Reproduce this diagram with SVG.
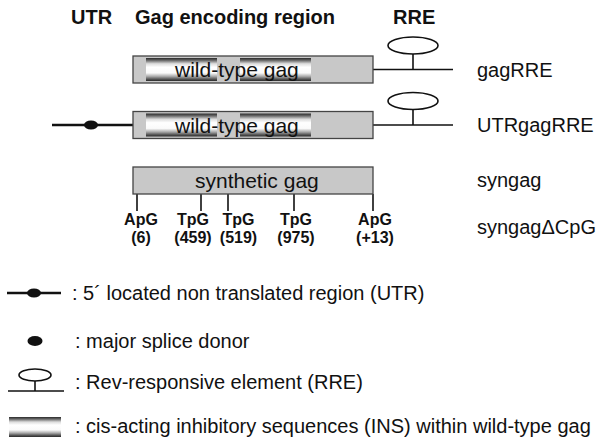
<svg xmlns="http://www.w3.org/2000/svg" width="596" height="447" viewBox="0 0 596 447">
<defs>
<linearGradient id="ins" x1="0" y1="0" x2="0" y2="1">
 <stop offset="0" stop-color="#2a2a2a"/>
 <stop offset="0.1" stop-color="#666"/>
 <stop offset="0.25" stop-color="#ddd"/>
 <stop offset="0.4" stop-color="#fff"/>
 <stop offset="0.65" stop-color="#fafafa"/>
 <stop offset="0.8" stop-color="#aaa"/>
 <stop offset="0.92" stop-color="#555"/>
 <stop offset="1" stop-color="#2a2a2a"/>
</linearGradient>
</defs>
<style>
text{font-family:"Liberation Sans",Arial,sans-serif;fill:#111}
.h{font-size:20px;font-weight:bold}
.l{font-size:20px}
.g{font-size:21px}
.b{font-size:16px;font-weight:bold;text-anchor:middle}
.box{fill:#c8c8c8;stroke:#444;stroke-width:1.3}
.ins{fill:url(#ins)}
.ln{stroke:#111;stroke-width:1.6;fill:none}
.utr{stroke:#111;stroke-width:2.6}
.rre{fill:#fff;stroke:#111;stroke-width:1.6}
.dot{fill:#111}
</style>
<g id="headers">
 <text class="h" x="71" y="24">UTR</text>
 <text class="h" x="135" y="24">Gag encoding region</text>
 <text class="h" x="393" y="24">RRE</text>
</g>
<g id="connectors">
 <line class="ln" x1="373" y1="69.5" x2="453" y2="69.5"/>
 <line class="ln" x1="413" y1="54" x2="413" y2="69.5"/>
 <line class="ln" x1="373" y1="125" x2="453" y2="125"/>
 <line class="ln" x1="413" y1="109.5" x2="413" y2="125"/>
 <line class="utr" x1="52" y1="125" x2="133" y2="125"/>
 <g class="ln">
  <line x1="137" y1="194" x2="137" y2="211"/>
  <line x1="201" y1="194" x2="201" y2="211"/>
  <line x1="228" y1="194" x2="228" y2="211"/>
  <line x1="294" y1="194" x2="294" y2="211"/>
  <line x1="373" y1="194" x2="373" y2="211"/>
 </g>
</g>
<g id="gagRRE">
 <rect class="box" x="133" y="56" width="240" height="27"/>
 <rect class="ins" x="146" y="58" width="71" height="23"/>
 <rect class="ins" x="240" y="58" width="71" height="23"/>
 <text class="g" x="175" y="77">wild-type gag</text>
 <ellipse class="rre" cx="413" cy="45.5" rx="25" ry="8.5"/>
 <text class="l" x="477" y="76.5">gagRRE</text>
</g>
<g id="UTRgagRRE">
 <ellipse class="dot" cx="91" cy="125" rx="7" ry="4.5"/>
 <rect class="box" x="133" y="111.5" width="240" height="27"/>
 <rect class="ins" x="146" y="113.5" width="71" height="23"/>
 <rect class="ins" x="240" y="113.5" width="71" height="23"/>
 <text class="g" x="175" y="132.5">wild-type gag</text>
 <ellipse class="rre" cx="413" cy="101" rx="25" ry="8.5"/>
 <text class="l" x="477" y="132">UTRgagRRE</text>
</g>
<g id="syngag">
 <rect class="box" x="133" y="167" width="240" height="27"/>
 <text class="g" x="195" y="187.5">synthetic gag</text>
 <text class="l" x="477" y="187">syngag</text>
</g>
<g id="syngagdCpG">
 <text class="b" x="141" y="225">ApG</text><text class="b" x="141" y="243">(6)</text>
 <text class="b" x="193" y="225">TpG</text><text class="b" x="193" y="243">(459)</text>
 <text class="b" x="238.5" y="225">TpG</text><text class="b" x="238.5" y="243">(519)</text>
 <text class="b" x="296" y="225">TpG</text><text class="b" x="296" y="243">(975)</text>
 <text class="b" x="375" y="225">ApG</text><text class="b" x="375" y="243">(+13)</text>
 <text class="l" x="477" y="234">syngagΔCpG</text>
</g>
<g id="legend">
 <line class="utr" x1="7" y1="293" x2="61" y2="293"/>
 <ellipse class="dot" cx="34" cy="293" rx="7" ry="4.5"/>
 <text class="l" x="72" y="300">: 5´ located non translated region (UTR)</text>
 <ellipse class="dot" cx="35" cy="341" rx="7.5" ry="5"/>
 <text class="l" x="75" y="348">: major splice donor</text>
 <ellipse class="rre" cx="35" cy="375" rx="16" ry="6"/>
 <line class="ln" x1="35" y1="381" x2="35" y2="391"/>
 <line class="ln" x1="8" y1="391" x2="64" y2="391"/>
 <text class="l" x="75" y="389">: Rev-responsive element (RRE)</text>
 <rect class="ins" x="9" y="417" width="52" height="20"/>
 <text class="l" x="75" y="433">: cis-acting inhibitory sequences (INS) within wild-type gag</text>
</g>
</svg>
